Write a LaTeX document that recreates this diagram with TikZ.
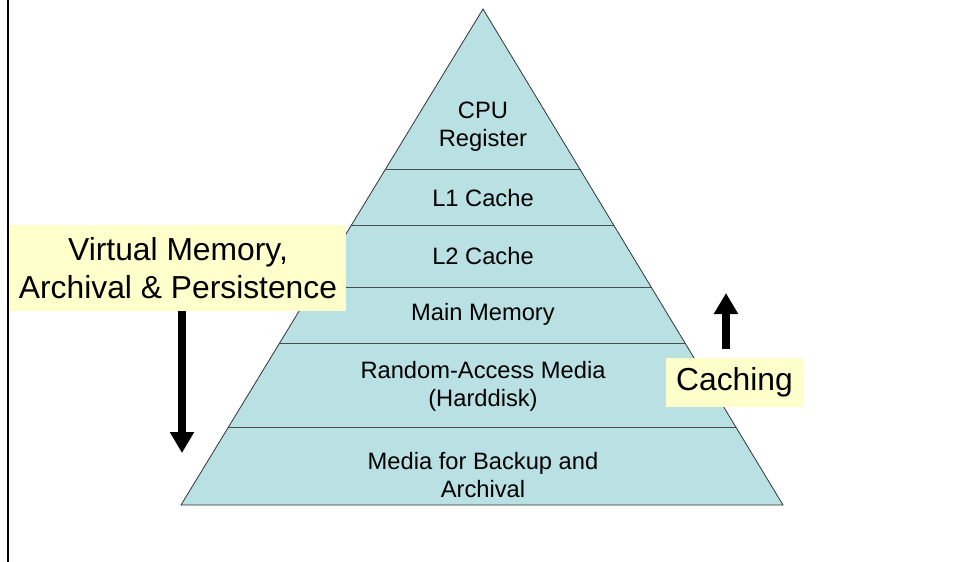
\documentclass[tikz,border=0pt]{standalone}
\usepackage{fontspec}
\setmainfont{Liberation Sans}
\usetikzlibrary{arrows.meta}
\definecolor{pyrblue}{RGB}{185,224,227}
\definecolor{noteyellow}{RGB}{255,255,204}
\begin{document}
\begin{tikzpicture}[x=1pt, y=-1pt]

      \tikzstyle{layer_style} = [align=center, inner sep=0pt, font=\fontsize{23.7}{28}\selectfont]
        \tikzstyle{note_style} = [fill=noteyellow, align=center, inner sep=0pt, font=\fontsize{31.8}{38.5}\selectfont]
            \tikzstyle{big_arrow} = [line width=8pt, -{Triangle[width=23pt, length=21pt]}]

      \useasboundingbox (0,0) rectangle (954,562);
      \draw[line width=2pt] (8,0) -- (8,562);

      % pyramid
      \coordinate (apex) at (483,9);
      \coordinate (base_l) at (181,505);
      \coordinate (base_r) at (783,505);
      \fill[pyrblue] (apex) -- (base_r) -- (base_l) -- cycle;
      \begin{scope}
        \clip (apex) -- (base_r) -- (base_l) -- cycle;
        \foreach \y in {169,225,287,343,427}
          \draw[line width=1pt, black!70] (150,\y) -- (820,\y);
      \end{scope}
      \draw[line width=0.8pt, black!80] (apex) -- (base_r) -- (base_l) -- cycle;

            \draw
              (483,127) node[layer_style] (cpu){CPU\\Register}
              (483,198) node[layer_style] (l1){L1 Cache}
              (483,256) node[layer_style] (l2){L2 Cache}
              (483,314) node[layer_style] (main){Main Memory}
              (483,386) node[layer_style] (disk){Random-Access Media\\(Harddisk)}
              (483,475) node[layer_style] (backup){Media for Backup and\\Archival}
              (178,268) node[note_style, minimum width=336pt, minimum height=86pt] (vm){Virtual Memory,\\Archival \& Persistence}
              (734.5,382.5) node[note_style, minimum width=137pt, minimum height=49pt] (cache){Caching};

      \coordinate (vm_tip) at (182,453);
      \coordinate (cache_tail) at (726,349);
      \coordinate (cache_tip) at (726,293);

      \begin{scope}[big_arrow]
        \draw (vm.south -| vm_tip) -- (vm_tip);
        \draw (cache_tail) -- (cache_tip);
      \end{scope}
    \end{tikzpicture}
\end{document}
